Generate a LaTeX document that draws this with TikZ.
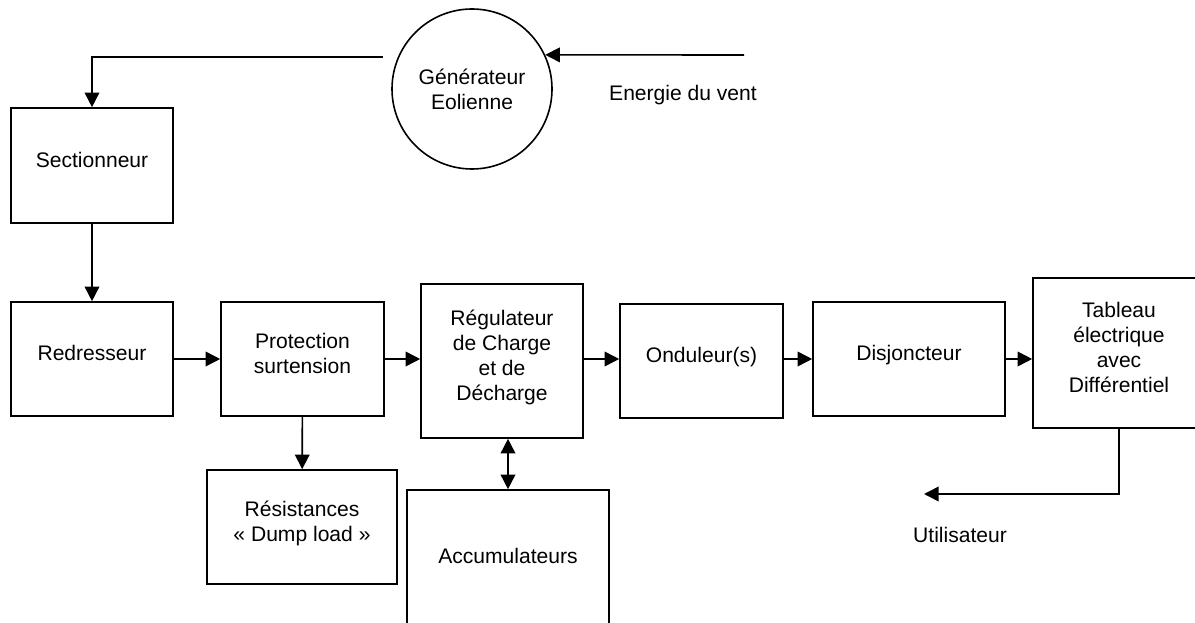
\documentclass[tikz,border=0pt]{standalone}
\usepackage{fontspec}
\setmainfont{Liberation Sans}
\usepackage{tikz}
\usetikzlibrary{arrows.meta}
\tikzset{>={Triangle[length=11pt,width=11pt]}}
\tikzset{
	bloc/.style 2 args={draw, line width=1.2pt, align=center, text depth=9pt, inner sep=2pt,
		minimum width=#1*0.75pt, minimum height=#2*0.75pt},
	fleche/.style={->, line width=1.2pt},
}

\begin{document}
\begin{tikzpicture}[x=0.75pt, y=-0.75pt, font=\fontsize{15.8}{18.8}\selectfont]
	\useasboundingbox (0,0) rectangle (1195,623);

	\node[draw, circle, line width=1.2pt, minimum size=120pt, align=center] (gen) at (472,89) {Générateur\\Eolienne};
	\node (vent) at (683,95) {Energie du vent};
	\node[bloc={162}{115}] (sect) at (92,165.5) {Sectionneur};
	\node[bloc={162}{114}] (redr) at (92,359) {Redresseur};
	\node[bloc={163}{114}] (prot) at (302.5,359) {Protection\\surtension};
	\node[bloc={162}{154}] (regul) at (502,361) {Régulateur\\de Charge\\et de\\Décharge};
	\node[bloc={163}{114}] (ondu) at (701.5,361) {Onduleur(s)};
	\node[bloc={192}{114}] (disj) at (909,359) {Disjoncteur};
	\node[bloc={172}{150}] (tabl) at (1119,353) {Tableau\\électrique\\avec\\Différentiel};
	\node[bloc={190}{114}] (resist) at (302,527) {Résistances\\« Dump load »};
	\node[bloc={202}{144}] (accu) at (508,562) {Accumulateurs};
	\node (util) at (960,535) {Utilisateur};

	\coordinate (ventin) at (744,55);
	\coordinate (genout) at (383,57);
	\coordinate (utilin) at (924,494);

	\draw[fleche] (ventin) -- (gen.25);
	\draw[fleche] (genout) -| (sect.north);
	\draw[fleche] (sect) -- (redr);
	\draw[fleche] (redr) -- (prot);
	\draw[fleche] (prot.east) -- (prot.east -| regul.west);
	\draw[fleche] (regul.east |- prot.east) -- (ondu.west |- prot.east);
	\draw[fleche] (ondu.east |- disj.east) -- (disj.west);
	\draw[fleche] (disj.east) -- (tabl.west |- disj.east);
	\draw[fleche] (prot) -- (resist);
	\draw[fleche, <->] (accu.north |- regul.south) -- (accu.north);
	\draw[fleche] (tabl.south) |- (utilin);
\end{tikzpicture}
\end{document}
